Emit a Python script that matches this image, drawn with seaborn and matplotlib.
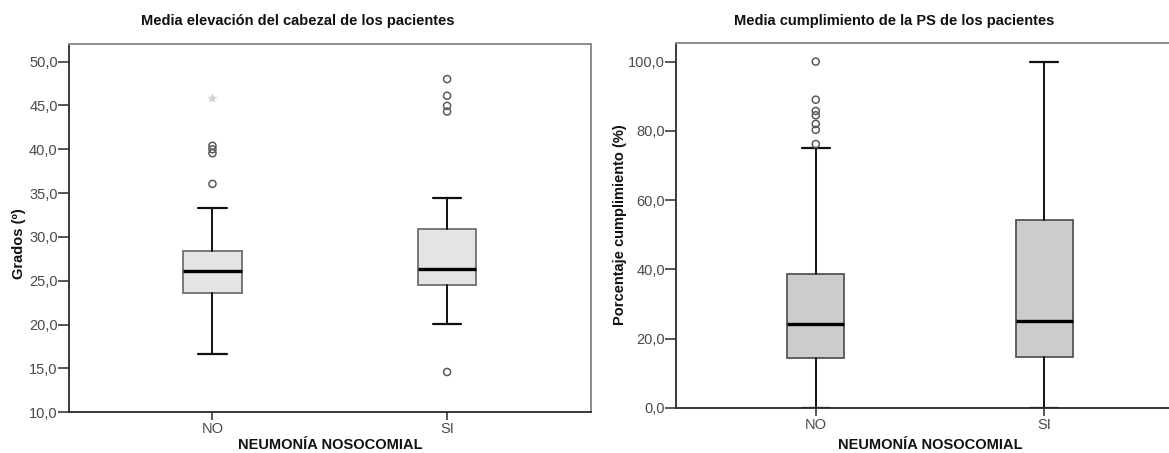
import matplotlib
matplotlib.use("Agg")
import matplotlib.pyplot as plt
from matplotlib.ticker import FuncFormatter, MultipleLocator
import numpy as np
import pandas as pd
import seaborn as sns

# Categories on the x axis
categories = ["NO", "SI"]

# Head-of-bed elevation (degrees): box summaries per group
elev_q1 = [23.6, 24.55]
elev_median = [26.1, 26.35]
elev_q3 = [28.4, 30.95]
elev_whislo = [16.7, 20.1]
elev_whishi = [33.3, 34.4]
elev_outliers = [[36.05, 39.55, 40.0, 40.4], [14.6, 44.3, 44.95, 46.1, 48.0]]
elev_extremes = [[45.9], []]

# Compliance with the protocol (%): box summaries per group
comp_q1 = [14.3, 14.6]
comp_median = [24.3, 25.0]
comp_q3 = [38.8, 54.2]
comp_whislo = [0.0, 0.0]
comp_whishi = [75.0, 100.0]
comp_outliers = [[76.2, 80.3, 82.0, 84.5, 85.75, 89.0, 100.0], []]
comp_extremes = [[], []]

sns.set_theme(style="white")
plt.rcParams["font.family"] = ["Liberation Sans", "DejaVu Sans"]


def comma_fmt(v, _pos):
    return f"{v:.1f}".replace(".", ",")


def box_stats(q1, med, q3, lo, hi):
    return [
        dict(med=med[i], q1=q1[i], q3=q3[i], whislo=lo[i], whishi=hi[i],
             fliers=[], label=categories[i])
        for i in range(len(categories))
    ]


def draw_panel(ax, stats, outliers, extremes, fill, edge, ylim, ystep):
    ax.bxp(stats, positions=range(len(categories)), widths=0.25,
           capwidths=0.122, showfliers=False, patch_artist=True,
           boxprops=dict(facecolor=fill, edgecolor=edge, linewidth=1.3),
           whiskerprops=dict(color="#111111", linewidth=1.4),
           capprops=dict(color="#111111", linewidth=1.6),
           medianprops=dict(color="#000000", linewidth=2.4))

    out_df = pd.DataFrame(
        [(i, v) for i, vals in enumerate(outliers) for v in vals],
        columns=["pos", "value"])
    if len(out_df):
        sns.scatterplot(data=out_df, x="pos", y="value", ax=ax, marker="o",
                        s=26, facecolor="none", edgecolor="#5a5a5a",
                        linewidth=1.1, zorder=5, legend=False)
    ext_df = pd.DataFrame(
        [(i, v) for i, vals in enumerate(extremes) for v in vals],
        columns=["pos", "value"])
    if len(ext_df):
        sns.scatterplot(data=ext_df, x="pos", y="value", ax=ax, marker="*",
                        s=40, color="#d0d0d0", edgecolor="#d0d0d0",
                        linewidth=0.5, zorder=5, legend=False)

    ax.set_xlim(-0.612, len(categories) - 1 + 0.612)
    ax.set_ylim(*ylim)
    ax.set_xticks(range(len(categories)))
    ax.set_xticklabels(categories)
    ax.yaxis.set_major_locator(MultipleLocator(ystep))
    ax.yaxis.set_major_formatter(FuncFormatter(comma_fmt))
    ax.set_xlabel("")
    ax.set_ylabel("")

    for side in ("top", "right"):
        ax.spines[side].set_color("#8c8c8c")
        ax.spines[side].set_linewidth(1.4)
    for side in ("left", "bottom"):
        ax.spines[side].set_color("#2a2a2a")
        ax.spines[side].set_linewidth(1.3)
    ax.tick_params(axis="y", direction="out", length=8, width=1.1,
                   color="#2a2a2a", labelsize=10.5, labelcolor="#4a4a4a",
                   pad=0, left=True)
    ax.tick_params(axis="x", direction="out", length=6, width=1.1,
                   color="#2a2a2a", labelsize=10.5, labelcolor="#4a4a4a",
                   pad=1, bottom=True)
    ax.grid(False)


fig = plt.figure(figsize=(11.69, 4.53), dpi=100)
fig.patch.set_facecolor("white")

ax1 = fig.add_axes([0.0589, 0.0898, 0.4464, 0.813])
draw_panel(ax1,
           box_stats(elev_q1, elev_median, elev_q3, elev_whislo, elev_whishi),
           elev_outliers, elev_extremes, "#e4e4e4", "#6e6e6e", (10, 52.0), 5)

ax2 = fig.add_axes([0.5783, 0.0996, 0.4344, 0.8049])
draw_panel(ax2,
           box_stats(comp_q1, comp_median, comp_q3, comp_whislo, comp_whishi),
           comp_outliers, comp_extremes, "#cccccc", "#555555", (0, 105.3), 20)

title_kw = dict(fontsize=10.5, fontweight="bold", color="#111111",
                ha="center", va="center")
fig.text(0.2547, 0.954, "Media elevación del cabezal de los pacientes", **title_kw)
fig.text(0.765, 0.954, "Media cumplimiento de la PS de los pacientes", **title_kw)

fig.text(0.2822, 0.0177, "NEUMONÍA NOSOCOMIAL", **title_kw)
fig.text(0.7955, 0.0177, "NEUMONÍA NOSOCOMIAL", **title_kw)

ylab_kw = dict(fontsize=10.5, fontweight="bold", color="#111111",
               ha="center", va="center", rotation=90)
fig.text(18.5 / 1169, 1 - 244 / 453, "Grados (º)", **ylab_kw)
fig.text(620 / 1169, 1 - 225 / 453, "Porcentaje cumplimiento (%)", **ylab_kw)

fig.savefig("out.png", dpi=100, facecolor="white")
